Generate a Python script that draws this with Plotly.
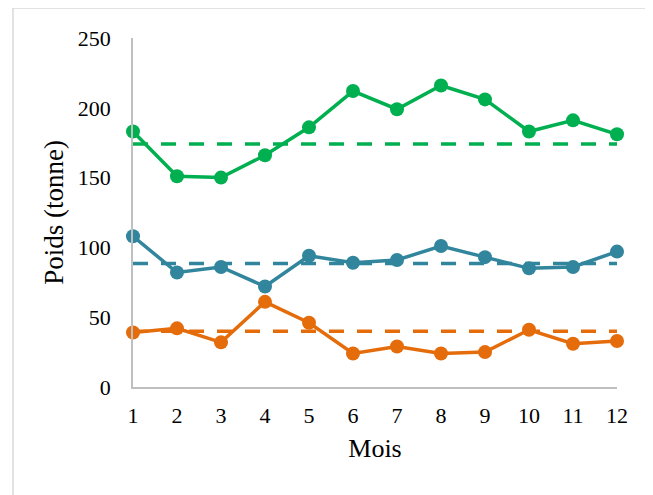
import plotly.graph_objects as go

months = [1, 2, 3, 4, 5, 6, 7, 8, 9, 10, 11, 12]
green_values = [183, 151, 150, 166, 186, 212, 199, 216, 206, 183, 191, 181]
blue_values = [108, 82, 86, 72, 94, 89, 91, 101, 93, 85, 86, 97]
orange_values = [39, 42, 32, 61, 46, 24, 29, 24, 25, 41, 31, 33]
green_ref = [174] * 12
blue_ref = [88.5] * 12
orange_ref = [40] * 12

GREEN = "#00B050"
BLUE = "#31859C"
ORANGE = "#E46C0A"

fig = go.Figure()
for ref, col in [(green_ref, GREEN), (blue_ref, BLUE), (orange_ref, ORANGE)]:
    fig.add_trace(go.Scatter(x=months, y=ref, mode="lines",
                             line=dict(color=col, width=3.5, dash="15px,13px"),
                             showlegend=False, hoverinfo="skip"))
for vals, col in [(green_values, GREEN), (blue_values, BLUE), (orange_values, ORANGE)]:
    fig.add_trace(go.Scatter(x=months, y=vals, mode="lines+markers",
                             line=dict(color=col, width=3.5),
                             marker=dict(color=col, size=14),
                             showlegend=False, cliponaxis=False))

font = dict(family="Liberation Serif, Times New Roman, serif", size=22, color="#000000")

fig.update_layout(
    width=645, height=487,
    margin=dict(l=125, r=36, t=30, b=108),
    paper_bgcolor="white", plot_bgcolor="white",
    font=font,
    xaxis=dict(range=[1, 12], tickvals=months, showgrid=False, zeroline=False,
               showline=True, linecolor="#BFBFBF", linewidth=1.5, ticks="",
               ticklabelstandoff=8, title=dict(text="Mois", font=dict(size=26), standoff=12)),
    yaxis=dict(range=[0, 250], tickvals=[0, 50, 100, 150, 200, 250], showgrid=False,
               zeroline=False, showline=True, linecolor="#BFBFBF", linewidth=1.5,
               ticks="", ticklabelstandoff=16,
               title=dict(text="Poids (tonne)", font=dict(size=27), standoff=6)),
    shapes=[dict(type="rect", xref="paper", yref="paper",
                 x0=-0.248, x1=2, y0=-2, y1=1.086,
                 line=dict(color="#D9D9D9", width=1.5), layer="below")],
)

fig.write_html("out.html")
